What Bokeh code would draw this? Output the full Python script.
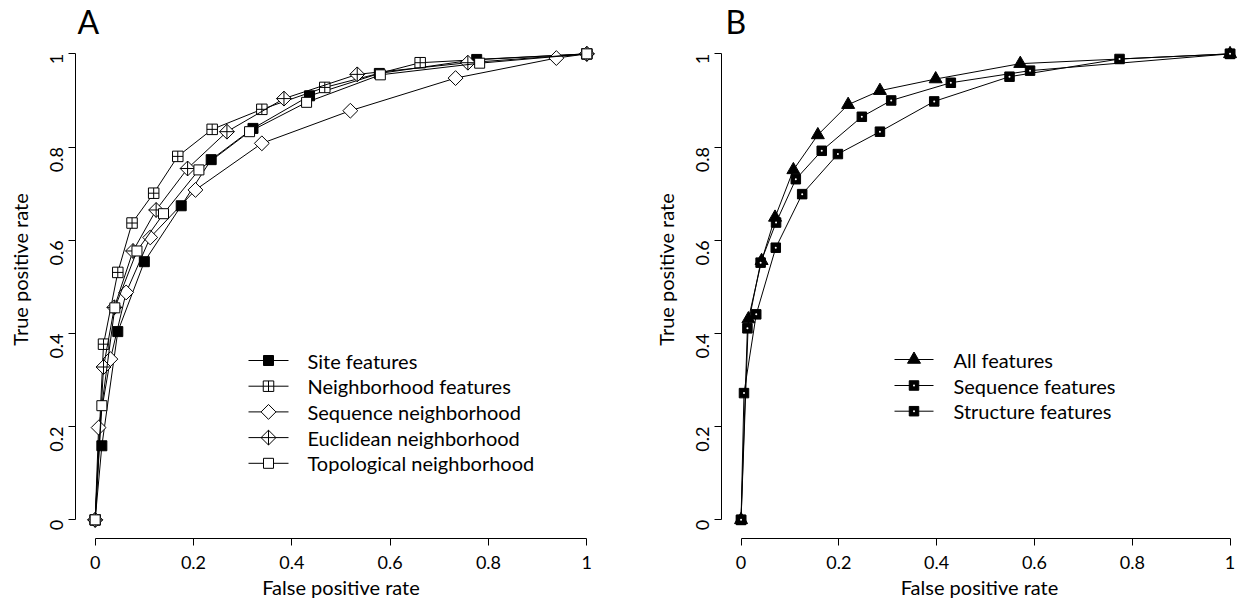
import numpy as np
from bokeh.plotting import figure
from bokeh.layouts import row
from bokeh.models import FixedTicker, Label
from bokeh.core.properties import value
from bokeh.embed import file_html
from bokeh.resources import INLINE

# ---- Panel A data ----
site_x = [0, 0.0136, 0.046, 0.100, 0.175, 0.236, 0.321, 0.436, 0.578, 0.776, 1]
site_y = [0, 0.159, 0.404, 0.554, 0.674, 0.773, 0.840, 0.910, 0.958, 0.988, 1]
nbh_x = [0, 0.017, 0.046, 0.075, 0.119, 0.168, 0.238, 0.339, 0.467, 0.661, 1]
nbh_y = [0, 0.377, 0.531, 0.637, 0.701, 0.780, 0.838, 0.881, 0.928, 0.981, 1]
seq_x = [0, 0.007, 0.031, 0.063, 0.112, 0.204, 0.339, 0.519, 0.733, 0.938, 1]
seq_y = [0, 0.198, 0.345, 0.488, 0.606, 0.708, 0.808, 0.878, 0.948, 0.991, 1]
euc_x = [0, 0.017, 0.039, 0.077, 0.124, 0.188, 0.268, 0.384, 0.533, 0.758, 1]
euc_y = [0, 0.328, 0.456, 0.577, 0.665, 0.754, 0.833, 0.904, 0.956, 0.981, 1]
top_x = [0, 0.0136, 0.040, 0.085, 0.139, 0.211, 0.314, 0.430, 0.580, 0.782, 1]
top_y = [0, 0.245, 0.455, 0.577, 0.657, 0.751, 0.833, 0.896, 0.955, 0.980, 1]
labels_a = ["Site features", "Neighborhood features", "Sequence neighborhood",
            "Euclidean neighborhood", "Topological neighborhood"]

# ---- Panel B data ----
all_x = [0, 0.015, 0.042, 0.0695, 0.107, 0.157, 0.219, 0.284, 0.398, 0.571, 1]
all_y = [0, 0.431, 0.556, 0.649, 0.751, 0.826, 0.891, 0.921, 0.946, 0.979, 1]
sqf_x = [0, 0.013, 0.040, 0.0716, 0.112, 0.165, 0.247, 0.307, 0.429, 0.591, 1]
sqf_y = [0, 0.411, 0.552, 0.638, 0.731, 0.792, 0.865, 0.900, 0.938, 0.964, 1]
stf_x = [0, 0.006, 0.031, 0.071, 0.125, 0.198, 0.284, 0.395, 0.549, 0.774, 1]
stf_y = [0, 0.272, 0.441, 0.584, 0.699, 0.785, 0.833, 0.898, 0.951, 0.989, 1]
labels_b = ["All features", "Sequence features", "Structure features"]

tick_vals = [0, 0.2, 0.4, 0.6, 0.8, 1]
tick_labels = ["0", "0.2", "0.4", "0.6", "0.8", "1"]

FONT = "Lato"

# ---- layout constants (pixels) ----
H = 601
BORDER_LEFT = 75
BORDER_BOTTOM = 63
FRAME_H = H - BORDER_BOTTOM          # frame runs from the top of the page
PX_PER_UNIT_Y = 466.0
Y0 = -0.04
Y1 = Y0 + FRAME_H / PX_PER_UNIT_Y

WA, RIGHT_A = 646, 40
WB, RIGHT_B = 591, 0
XA1 = 1.04
PX_PER_UNIT_XB = 489.0
XB1 = -0.04 + (WB - BORDER_LEFT - RIGHT_B) / PX_PER_UNIT_XB


def make_fig(width, border_right, x_end):
    p = figure(width=width, height=H, x_range=(-0.04, x_end), y_range=(Y0, Y1),
               output_backend="svg", toolbar_location=None,
               min_border_left=BORDER_LEFT, min_border_right=border_right,
               min_border_top=0, min_border_bottom=BORDER_BOTTOM)
    p.grid.visible = False
    p.outline_line_color = None
    for ax, lab in ((p.xaxis[0], "False positive rate"), (p.yaxis[0], "True positive rate")):
        ax.bounds = (0, 1)
        ax.ticker = FixedTicker(ticks=tick_vals)
        ax.major_label_overrides = {v: t for v, t in zip(tick_vals, tick_labels)}
        ax.minor_tick_line_color = None
        ax.major_tick_out = 7
        ax.major_tick_in = 0
        ax.axis_line_color = "black"
        ax.major_tick_line_color = "black"
        ax.major_label_text_font = FONT
        ax.major_label_text_font_size = "18px"
        ax.major_label_text_color = "black"
        ax.axis_label = lab
        ax.axis_label_text_font = FONT
        ax.axis_label_text_font_size = "20px"
        ax.axis_label_text_font_style = "normal"
        ax.axis_label_text_color = "black"
    p.xaxis.major_label_standoff = 10
    p.xaxis.axis_label_standoff = 3
    p.yaxis.major_label_orientation = np.pi / 2
    p.yaxis.major_label_standoff = 12
    p.yaxis.axis_label_standoff = 9
    return p


def px_to_data(p_left_px, x_start, x_end, frame_w):
    def fx(px):
        return x_start + (px - p_left_px) / frame_w * (x_end - x_start)
    return fx


def fy(py):
    return Y0 + (FRAME_H - py) / FRAME_H * (Y1 - Y0)


def series(p, xs, ys, marker, size, fill, angle=0.0):
    p.line(xs, ys, line_color="black", line_width=1)
    p.scatter(xs, ys, marker=marker, size=size, fill_color=fill,
              line_color="black", line_width=1, angle=angle)


def legend(p, fx, line_x0, line_x1, text_x, row_y, styles, labels):
    ys = [fy(r) for r in row_y]
    p.segment(x0=[fx(line_x0)] * len(ys), x1=[fx(line_x1)] * len(ys), y0=ys, y1=ys,
              line_color="black", line_width=1)
    xm = fx((line_x0 + line_x1) / 2)
    for y, st in zip(ys, styles):
        marker, size, fill, angle, dot = st
        p.scatter([xm], [y], marker=marker, size=size, fill_color=fill,
                  line_color="black", line_width=1, angle=angle)
        if dot:
            p.scatter([xm], [y], marker="circle", size=2, fill_color="white", line_color=None)
    p.text(x=[fx(text_x)] * len(ys), y=ys, text=labels, text_font=value(FONT),
           text_font_size=value("20px"), text_color="black",
           text_baseline="middle", text_align="left")


# ---------------- Panel A ----------------
pA = make_fig(WA, RIGHT_A, XA1)
styles_a = [("square", 10, "black", 0.0, False),
            ("square_cross", 10.5, "white", 0.0, False),
            ("square", 10.5, "white", np.pi / 4, False),
            ("square_x", 10.5, "white", np.pi / 4, False),
            ("square", 10, "white", 0.0, False)]
data_a = [(site_x, site_y), (nbh_x, nbh_y), (seq_x, seq_y), (euc_x, euc_y), (top_x, top_y)]
for (xs, ys), st in zip(data_a, styles_a):
    series(pA, xs, ys, st[0], st[1], st[2], st[3])

fxA = px_to_data(BORDER_LEFT, -0.04, XA1, WA - BORDER_LEFT - RIGHT_A)
legend(pA, fxA, 248, 288, 307, [360, 385.7, 411.4, 437.1, 462.8], styles_a, labels_a)
pA.add_layout(Label(x=2, y=FRAME_H - 21, x_units="screen", y_units="screen", text="A",
                    text_font=FONT, text_font_size="32px", text_color="black",
                    text_baseline="alphabetic"))

# ---------------- Panel B ----------------
pB = make_fig(WB, RIGHT_B, XB1)
styles_b = [("triangle", 13, "black", 0.0, False),
            ("square", 9.5, "black", 0.0, True),
            ("square", 9.5, "black", 0.0, True)]
data_b = [(all_x, all_y), (sqf_x, sqf_y), (stf_x, stf_y)]
for (xs, ys), st in zip(data_b, styles_b):
    series(pB, xs, ys, st[0], st[1], st[2], st[3])
    if st[4]:
        pB.scatter(xs, ys, marker="circle", size=2, fill_color="white", line_color=None)

fxB = px_to_data(BORDER_LEFT, -0.04, XB1, WB - BORDER_LEFT - RIGHT_B)
legend(pB, fxB, 894 - WA, 933 - WA, 953 - WA, [359, 385, 410.7], styles_b, labels_b)
pB.add_layout(Label(x=4, y=FRAME_H - 21, x_units="screen", y_units="screen", text="B",
                    text_font=FONT, text_font_size="32px", text_color="black",
                    text_baseline="alphabetic"))

layout = row(pA, pB)
open("out.html", "w").write(file_html(layout, INLINE))
